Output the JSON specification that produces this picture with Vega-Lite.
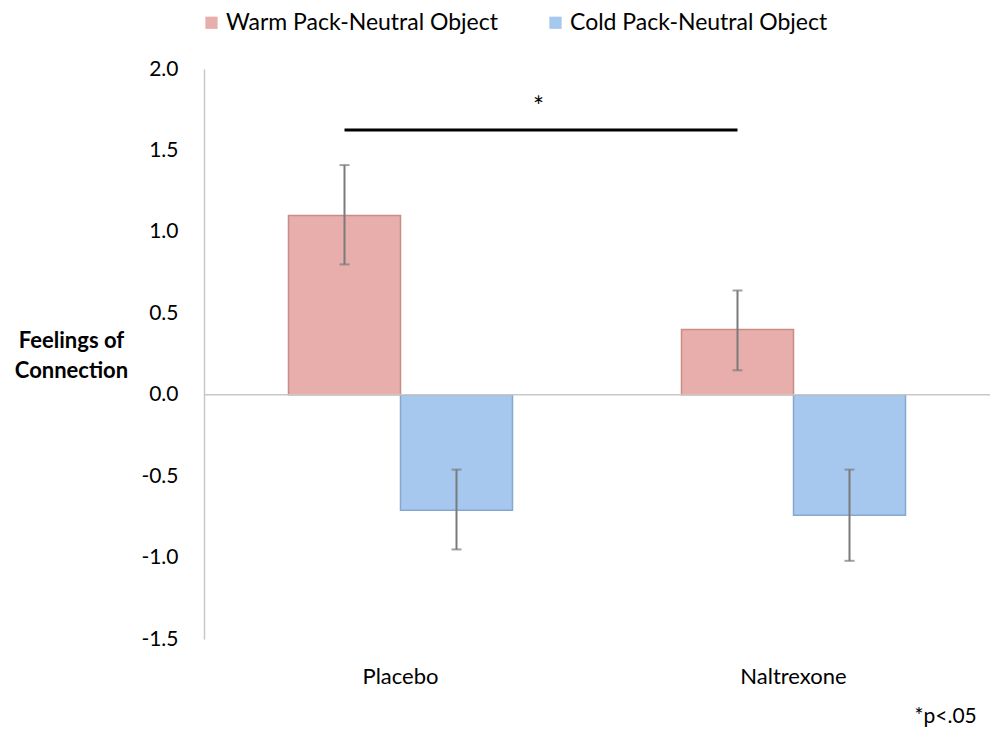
{
  "$schema": "https://vega.github.io/schema/vega-lite/v6.json",
  "autosize": {"type": "none"},
  "width": 786,
  "height": 570,
  "padding": {"left": 204, "top": 69, "right": 0, "bottom": 101},
  "background": "white",
  "config": {
    "font": "Lato",
    "view": {"stroke": null}
  },
  "title": {
    "text": "*p<.05",
    "orient": "bottom",
    "anchor": "end",
    "font": "Lato",
    "fontSize": 21,
    "fontWeight": "normal",
    "color": "#000000",
    "offset": 19,
    "dx": -14
  },
  "datasets": {
    "bars": [
      {"drug": "Placebo", "cond": "Warm Pack-Neutral Object", "mean": 1.1, "lo": 0.8, "hi": 1.41},
      {"drug": "Placebo", "cond": "Cold Pack-Neutral Object", "mean": -0.71, "lo": -0.95, "hi": -0.46},
      {"drug": "Naltrexone", "cond": "Warm Pack-Neutral Object", "mean": 0.4, "lo": 0.15, "hi": 0.64},
      {"drug": "Naltrexone", "cond": "Cold Pack-Neutral Object", "mean": -0.74, "lo": -1.02, "hi": -0.46}
    ],
    "sig": [
      {"drug": "Placebo", "cond": "Warm Pack-Neutral Object", "y": 1.625},
      {"drug": "Naltrexone", "cond": "Warm Pack-Neutral Object", "y": 1.625}
    ],
    "star": [
      {"drug": "Placebo", "cond": "Cold Pack-Neutral Object", "y": 1.76, "label": "*"}
    ]
  },
  "encoding": {
    "x": {
      "field": "drug",
      "type": "nominal",
      "sort": ["Placebo", "Naltrexone"],
      "scale": {"paddingInner": 0.43, "paddingOuter": 0.215},
      "axis": {
        "title": null,
        "domain": false,
        "ticks": false,
        "labelAngle": 0,
        "labelFontSize": 22,
        "labelColor": "#000000",
        "labelPadding": 27,
        "labelFont": "Lato"
      }
    },
    "xOffset": {
      "field": "cond",
      "type": "nominal",
      "sort": ["Warm Pack-Neutral Object", "Cold Pack-Neutral Object"],
      "scale": {"paddingInner": 0, "paddingOuter": 0}
    }
  },
  "layer": [
    {
      "data": {"name": "bars"},
      "mark": {"type": "bar", "strokeWidth": 1.5},
      "encoding": {
        "y": {
          "field": "mean",
          "type": "quantitative",
          "scale": {"domain": [-1.5, 2], "nice": false, "zero": false},
          "axis": {
            "values": [-1.5, -1, -0.5, 0, 0.5, 1, 1.5, 2],
            "labelExpr": "replace(format(datum.value, '.1f'), '\u2212', '-')",
            "grid": false,
            "ticks": false,
            "domainColor": "#c8c8c8",
            "domainWidth": 1.5,
            "labelFontSize": 21,
            "labelColor": "#000000",
            "labelPadding": 26,
            "labelFont": "Lato",
            "title": ["Feelings of", "Connection"],
            "titleAngle": 0,
            "titleFont": "Lato",
            "titleFontSize": 22,
            "titleFontWeight": "bold",
            "titleColor": "#000000",
            "titleAlign": "center",
            "titleBaseline": "middle",
            "titleLineHeight": 30,
            "titleX": -133,
            "titleY": 271
          }
        },
        "fill": {
          "field": "cond",
          "type": "nominal",
          "sort": ["Warm Pack-Neutral Object", "Cold Pack-Neutral Object"],
          "scale": {"range": ["#E8AEAB", "#A7C8EE"]},
          "legend": {
            "title": null,
            "orient": "none",
            "direction": "horizontal",
            "legendX": -4,
            "legendY": -58,
            "symbolType": "square",
            "symbolSize": 150,
            "symbolStrokeWidth": 0,
            "labelFontSize": 23,
            "labelFont": "Lato",
            "labelColor": "#000000",
            "labelOffset": 3,
            "labelLimit": 400,
            "columnPadding": 46
          }
        },
        "stroke": {
          "field": "cond",
          "type": "nominal",
          "sort": ["Warm Pack-Neutral Object", "Cold Pack-Neutral Object"],
          "scale": {"range": ["#C88C89", "#86A7CF"]},
          "legend": null
        }
      }
    },
    {
      "data": {"values": [{"z": 0}]},
      "mark": {"type": "rule", "color": "#c8c8c8", "strokeWidth": 1.5},
      "encoding": {"y": {"field": "z", "type": "quantitative"}, "x": null, "xOffset": null}
    },
    {
      "data": {"name": "bars"},
      "mark": {"type": "rule", "color": "#7a7a7a", "strokeWidth": 2},
      "encoding": {
        "y": {"field": "lo", "type": "quantitative"},
        "y2": {"field": "hi"}
      }
    },
    {
      "data": {"name": "bars"},
      "mark": {"type": "tick", "color": "#7a7a7a", "thickness": 2, "size": 10, "orient": "horizontal"},
      "encoding": {"y": {"field": "lo", "type": "quantitative"}}
    },
    {
      "data": {"name": "bars"},
      "mark": {"type": "tick", "color": "#7a7a7a", "thickness": 2, "size": 10, "orient": "horizontal"},
      "encoding": {"y": {"field": "hi", "type": "quantitative"}}
    },
    {
      "data": {"name": "sig"},
      "mark": {"type": "line", "color": "#000000", "strokeWidth": 3},
      "encoding": {
        "y": {"field": "y", "type": "quantitative"},
        "detail": {"value": "sig"}
      }
    },
    {
      "data": {"name": "star"},
      "mark": {"type": "text", "fontSize": 26, "font": "Lato", "color": "#000000", "dx": 82},
      "encoding": {
        "y": {"field": "y", "type": "quantitative"},
        "text": {"field": "label"}
      }
    }
  ]
}
